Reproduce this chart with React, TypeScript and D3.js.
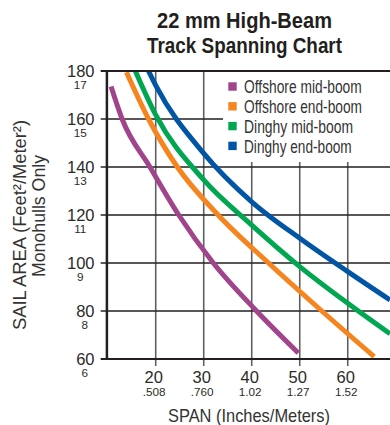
import React from 'react';
import * as d3 from 'd3';

const seriesNames = ['Offshore mid-boom', 'Offshore end-boom', 'Dinghy mid-boom', 'Dinghy end-boom'];
const seriesColors = ['#a0458b', '#f6851f', '#00a650', '#0055a5'];
const legendWidths = [117.7, 118, 109, 107.7];

const offshoreMidSpan = [10.7, 13, 18.8, 24.8, 32, 41, 49.7];
const offshoreMidArea = [173.5, 160, 140, 120, 100, 80, 62.5];
const offshoreEndSpan = [13.9, 18.5, 24.5, 33, 43.5, 54.6, 65.5];
const offshoreEndArea = [179.5, 160, 140, 120, 100, 80, 61];
const dinghyMidSpan = [15.75, 20, 30, 40, 50, 60, 68.8];
const dinghyMidArea = [180, 161.7, 134.6, 115.8, 98.5, 83.2, 70.5];
const dinghyEndSpan = [18.5, 20, 30, 40, 50, 60, 68.8];
const dinghyEndArea = [180, 174, 145.7, 125.5, 110.3, 96.4, 84.6];

const xTicks = [20, 30, 40, 50, 60];
const xTickMeters = ['.508', '.760', '1.02', '1.27', '1.52'];
const yTicks = [60, 80, 100, 120, 140, 160, 180];
const yTickMeters = ['6', '8', '9', '11', '13', '15', '17'];

const W = 390;
const H = 425;
const FONT = "'Liberation Sans', Arial, Helvetica, sans-serif";
const TXT = '#2b2b2b';

export default function App() {
  const x = d3.scaleLinear().domain([10, 68.8]).range([107.7, 390]);
  const y = d3.scaleLinear().domain([60, 180]).range([359, 71]);
  const left = x(10);
  const right = W;
  const top = y(180);
  const bottom = y(60);

  const series = [
    { span: offshoreMidSpan, area: offshoreMidArea },
    { span: offshoreEndSpan, area: offshoreEndArea },
    { span: dinghyMidSpan, area: dinghyMidArea },
    { span: dinghyEndSpan, area: dinghyEndArea },
  ];
  const line = d3
    .line<[number, number]>()
    .x((d) => x(d[0]))
    .y((d) => y(d[1]))
    .curve(d3.curveMonotoneX);

  const legendX = 223;
  const legendTop = top + 1;
  const legendBottom = 162;

  return (
    <svg
      width={W}
      height={H}
      viewBox={`0 0 ${W} ${H}`}
      style={{ position: 'absolute', left: 0, top: 0, background: '#fff' }}
      fontFamily={FONT}
    >
      <defs>
        <clipPath id="plotClip">
          <rect x={left} y={top} width={right - left} height={bottom - top} />
        </clipPath>
      </defs>
      <rect x={0} y={0} width={W} height={H} fill="#fff" />

      {/* Title */}
      <text x={244.5} y={28.3} textAnchor="middle" fontWeight="bold" fontSize={22.3} fill="#231f20"
        textLength={175} lengthAdjust="spacingAndGlyphs">22 mm High-Beam</text>
      <text x={244.5} y={52.5} textAnchor="middle" fontWeight="bold" fontSize={22.3} fill="#231f20"
        textLength={195} lengthAdjust="spacingAndGlyphs">Track Spanning Chart</text>

      {/* vertical gridlines */}
      {xTicks.map((t) => (
        <line key={'vg' + t} x1={x(t)} x2={x(t)} y1={top} y2={bottom + 7}
          stroke="#5f6062" strokeWidth={1.6} />
      ))}
      {/* horizontal gridlines */}
      {yTicks.slice(1, -1).map((t) => (
        <line key={'hg' + t} x1={left - 7} x2={right} y1={y(t)} y2={y(t)}
          stroke="#231f20" strokeWidth={1.3} />
      ))}

      {/* legend background */}
      <rect x={legendX} y={legendTop} width={right - legendX} height={legendBottom - legendTop} fill="#fff" />

      {/* curves */}
      <g clipPath="url(#plotClip)">
        {series.map((s, i) => (
          <path key={'s' + i}
            d={line(s.span.map((v, j) => [v, s.area[j]] as [number, number])) || ''}
            fill="none" stroke={seriesColors[i]} strokeWidth={5} strokeLinecap="butt" />
        ))}
      </g>

      {/* axes */}
      <line x1={left - 7} x2={right} y1={top} y2={top} stroke="#231f20" strokeWidth={2.2} />
      <line x1={left - 7} x2={right} y1={bottom} y2={bottom} stroke="#231f20" strokeWidth={2.2} />
      <line x1={left - 0.8} x2={left - 0.8} y1={top - 1} y2={bottom + 1} stroke="#231f20" strokeWidth={2.5} />

      {/* y tick labels */}
      {yTicks.map((t, i) => {
        const label = String(t);
        const cx = 94 - label.length * 4.6;
        return (
          <g key={'yl' + t}>
            <text x={94.5} y={y(t) + 5.8} textAnchor="end" fontSize={16.5} fill={TXT}>{label}</text>
            <text x={cx} y={y(t) + 17.8} textAnchor="middle" fontSize={11.7} fill={TXT}>{yTickMeters[i]}</text>
          </g>
        );
      })}

      {/* x tick labels */}
      {xTicks.map((t, i) => (
        <g key={'xl' + t}>
          <text x={x(t) - 2} y={382.7} textAnchor="middle" fontSize={16.5} fill={TXT}>{String(t)}</text>
          <text x={x(t) - 1.5} y={395.7} textAnchor="middle" fontSize={11.7} fill={TXT}>{xTickMeters[i]}</text>
        </g>
      ))}

      {/* axis titles */}
      <text x={249} y={421.7} textAnchor="middle" fontSize={18.4} fill="#333"
        textLength={162} lengthAdjust="spacingAndGlyphs">SPAN (Inches/Meters)</text>
      <text transform="translate(26,225) rotate(-90)" textAnchor="middle" fontSize={17.5} fill="#333"
        textLength={210} lengthAdjust="spacingAndGlyphs">SAIL AREA (Feet²/Meter²)</text>
      <text transform="translate(45,216) rotate(-90)" textAnchor="middle" fontSize={17.5} fill="#333"
        textLength={122} lengthAdjust="spacingAndGlyphs">Monohulls Only</text>

      {/* legend */}
      {seriesNames.map((n, i) => {
        const by = 93.3 + i * 19.8;
        return (
          <g key={'lg' + i}>
            <rect x={228.3} y={by - 11} width={8.4} height={8.4} fill={seriesColors[i]} />
            <text x={244} y={by} fontSize={17.5} fill="#333"
              textLength={legendWidths[i]} lengthAdjust="spacingAndGlyphs">{n}</text>
          </g>
        );
      })}
    </svg>
  );
}
